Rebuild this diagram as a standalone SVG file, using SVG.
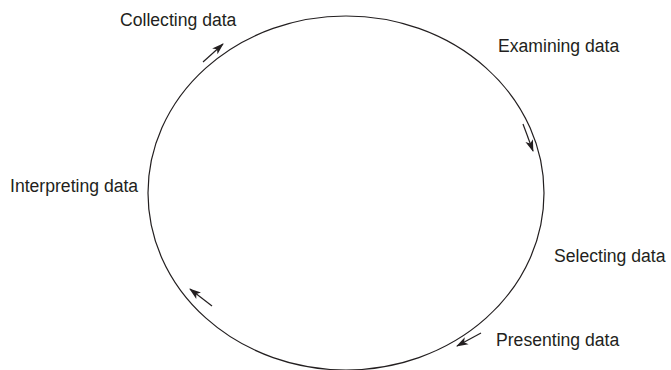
<svg xmlns="http://www.w3.org/2000/svg" width="671" height="370" viewBox="0 0 671 370">
<style>
text{font-family:"Liberation Sans",Arial,sans-serif;font-size:17.6px;fill:#231f20}
.c{fill:none;stroke:#231f20;stroke-width:1.2}
.a{fill:none;stroke:#231f20;stroke-width:1.2;marker-end:url(#ah)}
</style>
<defs>
<marker id="ah" viewBox="0 0 12 10" refX="11" refY="5" markerWidth="12" markerHeight="10" markerUnits="userSpaceOnUse" orient="auto">
<path d="M0,1 L12,5 L0,9 L3,5 Z" fill="#231f20"/>
</marker>
</defs>
<g id="cycle">
<ellipse class="c" cx="346" cy="193" rx="198" ry="177"/>
</g>
<g id="connectors">
<line class="a" x1="203" y1="62" x2="223" y2="44"/>
<line class="a" x1="523" y1="124" x2="533" y2="151"/>
<line class="a" x1="481" y1="333" x2="457" y2="346"/>
<line class="a" x1="212" y1="306" x2="190" y2="289"/>
</g>
<g id="n1"><text x="120" y="26">Collecting data</text></g>
<g id="n2"><text x="498" y="52">Examining data</text></g>
<g id="n3"><text x="554" y="262">Selecting data</text></g>
<g id="n4"><text x="496" y="346">Presenting data</text></g>
<g id="n5"><text x="10" y="192">Interpreting data</text></g>
</svg>
